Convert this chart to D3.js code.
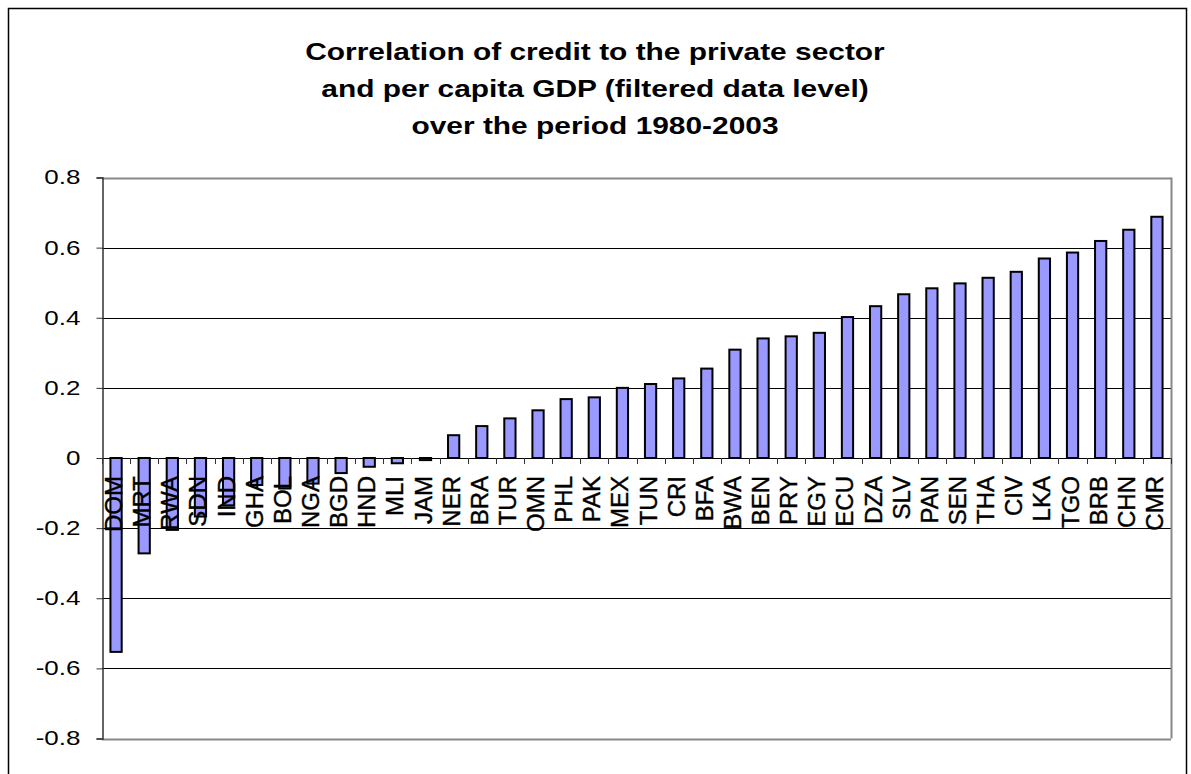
<!DOCTYPE html>
<html>
<head>
<meta charset="utf-8">
<script src="https://cdn.jsdelivr.net/npm/d3@7"></script>
<style>
  body { margin: 0; background: #fff; }
  text { font-family: Arial, "Liberation Sans", sans-serif; }
</style>
</head>
<body>
<div id="chart-area"></div>
<script>
// countries, sorted by correlation
var countries = ["DOM", "MRT", "RWA", "SDN", "IND", "GHA", "BOL", "NGA", "BGD", "HND", "MLI", "JAM",
    "NER", "BRA", "TUR", "OMN", "PHL", "PAK", "MEX", "TUN", "CRI", "BFA", "BWA", "BEN", "PRY", "EGY",
    "ECU", "DZA", "SLV", "PAN", "SEN", "THA", "CIV", "LKA", "TGO", "BRB", "CHN", "CMR"];
var correlation = [-0.553, -0.272, -0.205, -0.167, -0.135, -0.077, -0.087, -0.073, -0.043, -0.025, -0.015, -0.006,
    0.065, 0.091, 0.113, 0.136, 0.168, 0.173, 0.2, 0.211, 0.227, 0.255, 0.309, 0.341, 0.347, 0.357,
    0.402, 0.433, 0.467, 0.484, 0.498, 0.514, 0.531, 0.569, 0.586, 0.619, 0.651, 0.688];
var yTicks = [-0.8, -0.6, -0.4, -0.2, 0, 0.2, 0.4, 0.6, 0.8];
var titleLines = ["Correlation of credit to the private sector",
    "and per capita GDP (filtered data level)",
    "over the period 1980-2003"];

var data = countries.map(function(c, i) {
    return {name: c, value: correlation[i]};
});

var width = 1191, height = 774;
var plotLeft = 102, plotRight = 1171, plotTop = 177.5, plotBottom = 738.5;

var svg = d3.select("#chart-area")
    .append("svg")
        .attr("width", width)
        .attr("height", height);

// outer chart border
svg.append("rect")
    .attr("x", 8.5).attr("y", 8.5)
    .attr("width", 1178).attr("height", 800)
    .attr("fill", "none")
    .attr("stroke", "#000")
    .attr("stroke-width", 1.5);

// title (the original text is a bit wide, so stretch it)
svg.append("g")
    .selectAll("text")
    .data(titleLines)
    .enter()
    .append("text")
        .attr("transform", function(d, i) {
            return "translate(595," + (60 + i * 37) + ") scale(1.3,1)";
        })
        .attr("text-anchor", "middle")
        .attr("font-size", 23)
        .attr("font-weight", "bold")
        .text(function(d) { return d; });

var y = d3.scaleLinear()
    .domain([-0.8, 0.8])
    .range([plotBottom, plotTop]);

var x = d3.scaleBand()
    .domain(countries)
    .range([plotLeft, plotRight])
    .paddingInner(0.6)
    .paddingOuter(0.3);

// gridlines
svg.append("g")
    .selectAll("line")
    .data(yTicks)
    .enter()
    .append("line")
        .attr("x1", plotLeft).attr("x2", plotRight)
        .attr("y1", function(d) { return Math.round(y(d)) + 0.5; })
        .attr("y2", function(d) { return Math.round(y(d)) + 0.5; })
        .attr("stroke", function(d) { return (d === 0.8 || d === -0.8) ? "#888" : "#000"; })
        .attr("stroke-width", function(d) { return (d === 0.8 || d === -0.8) ? 2 : 1; });

// right plot border
svg.append("line")
    .attr("x1", plotRight + 0.5).attr("x2", plotRight + 0.5)
    .attr("y1", y(0.8)).attr("y2", y(-0.8))
    .attr("stroke", "#888")
    .attr("stroke-width", 2);

// bars
svg.append("g")
    .selectAll("rect")
    .data(data)
    .enter()
    .append("rect")
        .attr("x", function(d) { return x(d.name); })
        .attr("width", x.bandwidth())
        .attr("y", function(d) { return y(Math.max(0, d.value)); })
        .attr("height", function(d) { return Math.abs(y(d.value) - y(0)); })
        .attr("fill", "#9999FF")
        .attr("stroke", "#000")
        .attr("stroke-width", 2);

// y axis
var yAxis = d3.axisLeft(y)
    .tickValues(yTicks)
    .tickSize(6)
    .tickPadding(0)
    .tickFormat(function(d) { return d === 0 ? "0" : d.toFixed(1); });

var yg = svg.append("g")
    .attr("transform", "translate(" + (plotLeft + 0.5) + ",0)")
    .call(yAxis);
yg.select(".domain").attr("stroke", "#333").attr("stroke-width", 1.5);
yg.selectAll(".tick line").attr("stroke", "#333");
yg.selectAll(".tick text")
    .attr("x", null)
    .attr("transform", "translate(-22,0) scale(1.3,1)")
    .attr("font-size", 20)
    .attr("font-family", "Arial, 'Liberation Sans', sans-serif")
    .attr("fill", "#000");

// category tick marks on the zero line
var step = x.step();
svg.append("g")
    .selectAll("line")
    .data(d3.range(countries.length + 1))
    .enter()
    .append("line")
        .attr("x1", function(i) { return Math.round(plotLeft + i * step) + 0.5; })
        .attr("x2", function(i) { return Math.round(plotLeft + i * step) + 0.5; })
        .attr("y1", y(0))
        .attr("y2", y(0) + 6)
        .attr("stroke", "#333");

// category labels, drawn over the bars
svg.append("g")
    .selectAll("text")
    .data(countries)
    .enter()
    .append("text")
        .attr("transform", function(d) {
            return "translate(" + (x(d) + x.bandwidth() / 2) + "," + (y(0) + 18) + ") rotate(-90)";
        })
        .attr("dy", 6)
        .attr("text-anchor", "end")
        .attr("font-size", 24)
        .attr("stroke", "#000")
        .attr("stroke-width", 0.4)
        .text(function(d) { return d; });
</script>
</body>
</html>
